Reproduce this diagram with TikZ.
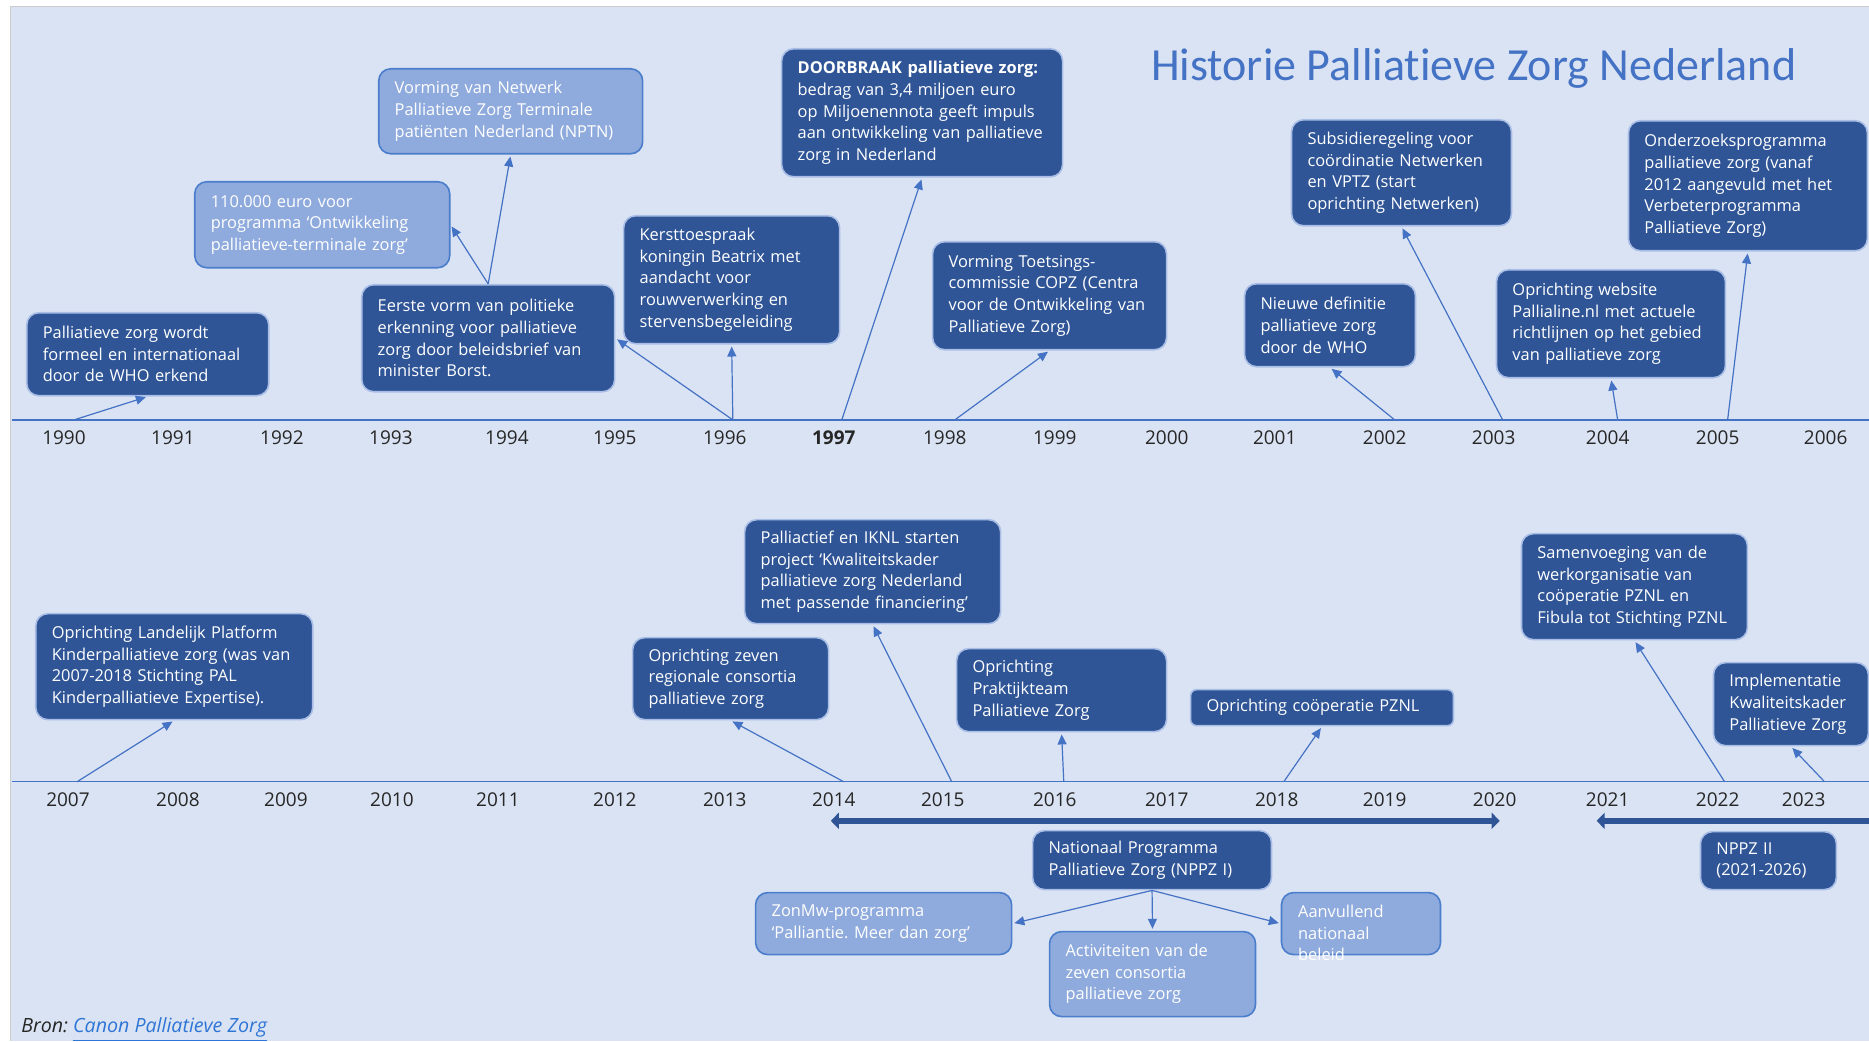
\documentclass[tikz,border=0pt]{standalone}
\usepackage{fontspec}
\setmainfont{Open Sans}
\newfontfamily\titlefont{Carlito}[Ligatures=NoCommon]
\usetikzlibrary{arrows.meta}
\frenchspacing

\definecolor{bgblue}{HTML}{DAE3F3}
\definecolor{darkbox}{HTML}{2F5597}
\definecolor{glow}{HTML}{A9BEE6}
\definecolor{palebox}{HTML}{8FAADC}
\definecolor{paleedge}{HTML}{4A7DCB}
\definecolor{linkblue}{HTML}{4472C4}
\definecolor{yeargray}{HTML}{262626}
\definecolor{urlblue}{HTML}{2E75D6}

\tikzset{
  evt/.style={draw=glow, line width=0.8pt, fill=darkbox, text=white, rounded corners=6pt,
    anchor=north west, align=left, inner xsep=8pt, inner ysep=4pt,
    font=\fontsize{8.2}{10.8}\selectfont},
  pale/.style={evt, fill=palebox, draw=paleedge},
  yr/.style={text=yeargray, font=\fontsize{9.5}{11}\selectfont},
  lnk/.style={draw=linkblue, line width=0.6pt, -{Triangle[length=5pt,width=4.5pt]}, shorten >=1pt},
  bar/.style={draw=darkbox, line width=3pt},
  bartip/.tip={Triangle[length=4pt,width=8pt]},
}

\begin{document}
\begin{tikzpicture}[x=0.5pt, y=-0.5pt]
  % background
  \fill[white] (0,0) rectangle (1869,1041);
  \fill[bgblue] (10,6) rectangle (1869,1041);
  \draw[gray!40] (10,1041) -- (10,6) -- (1869,6);
  \useasboundingbox (0,0) rectangle (1869,1041);

  \node[anchor=base, text=linkblue, font=\titlefont\fontsize{23}{26}\selectfont] (title) at (1474,81) {Historie Palliatieve Zorg Nederland};

  % time axes
  \draw[linkblue, line width=0.6pt] (12,420) -- (1869,420);
  \draw[linkblue, line width=0.6pt] (12,782) -- (1869,782);
  \foreach \yr/\xx in {1990/64, 1991/173, 1992/282, 1993/391, 1994/507, 1995/615, 1996/725,
      1998/945, 1999/1055, 2000/1167, 2001/1275, 2002/1385, 2003/1494, 2004/1608, 2005/1718, 2006/1826}
    \node[yr] (y\yr) at (\xx,438) {\yr};
  \node[yr, font=\bfseries\fontsize{9.5}{11}\selectfont] (y1997) at (834,438) {1997};
  \foreach \yr/\xx in {2007/68, 2008/178, 2009/286, 2010/392, 2011/498, 2012/615, 2013/725, 2014/834,
      2015/943, 2016/1055, 2017/1167, 2018/1277, 2019/1385, 2020/1495, 2021/1608, 2022/1718, 2023/1804}
    \node[yr] (y\yr) at (\xx,800) {\yr};

  % 1990-2006
  \node[evt, text width=105pt, minimum height=41.5pt] (who) at (26,312) {Palliatieve zorg wordt\\formeel en internationaal\\door de WHO erkend};
  \node[pale, text width=111.5pt, minimum height=43pt] (euro) at (194,181) {110.000 euro voor\\programma ‘Ontwikkeling\\palliatieve-terminale zorg’};
  \node[pale, text width=116pt, minimum height=42.5pt] (nptn) at (378,68) {Vorming van Netwerk\\Palliatieve Zorg Terminale\\patiënten Nederland (NPTN)};
  \node[evt, text width=110.5pt, minimum height=53.5pt] (borst) at (361,284) {Eerste vorm van politieke\\erkenning voor palliatieve\\zorg door beleidsbrief van\\minister Borst.};
  \node[evt, text width=92pt, minimum height=64pt] (kerst) at (623,215) {Kersttoespraak\\koningin Beatrix met\\aandacht voor\\rouwverwerking en\\stervensbegeleiding};
  \node[evt, text width=124.5pt, minimum height=64pt] (doorbraak) at (781,48) {\textbf{DOORBRAAK palliatieve zorg:}\\bedrag van 3,4 miljoen euro\\op Miljoenennota geeft impuls\\aan ontwikkeling van palliatieve\\zorg in Nederland};
  \node[evt, text width=101pt, minimum height=54pt] (copz) at (932,241) {Vorming Toetsings-\\commissie COPZ (Centra\\voor de Ontwikkeling van\\Palliatieve Zorg)};
  \node[evt, text width=69.5pt, minimum height=41.5pt] (who2) at (1244,283) {Nieuwe definitie\\palliatieve zorg\\door de WHO};
  \node[evt, text width=94pt, minimum height=53pt] (subsidie) at (1291,119) {Subsidieregeling voor\\coördinatie Netwerken\\en VPTZ (start\\oprichting Netwerken)};
  \node[evt, text width=98.5pt, minimum height=54pt] (pallialine) at (1496,269) {Oprichting website\\Pallialine.nl met actuele\\richtlijnen op het gebied\\van palliatieve zorg};
  \node[evt, text width=103.5pt, minimum height=65pt] (onderzoek) at (1628,120) {Onderzoeksprogramma\\palliatieve zorg (vanaf\\2012 aangevuld met het\\Verbeterprogramma\\Palliatieve Zorg)};

  \coordinate (t1990) at (74,420);
  \coordinate (t1996) at (733,420);
  \coordinate (t1997) at (842,420);
  \coordinate (t1998) at (955,420);
  \coordinate (t2002) at (1395,420);
  \coordinate (t2003) at (1503,420);
  \coordinate (t2004) at (1618,420);
  \coordinate (t2005) at (1728,420);

  \draw[lnk] (t1990) -- (who.south);
  \draw[lnk] (borst.north) -- (euro.east);
  \draw[lnk] (borst.north) -- (nptn.south);
  \draw[lnk] (t1996) -- (borst.east);
  \draw[lnk] (t1996) -- (kerst.south);
  \draw[lnk] (t1997) -- (doorbraak.south);
  \draw[lnk] (t1998) -- (copz.south);
  \draw[lnk] (t2002) -- (who2.south);
  \draw[lnk] (t2003) -- (subsidie.south);
  \draw[lnk] (t2004) -- (pallialine.south);
  \draw[lnk] (t2005) -- (onderzoek.south);

  % 2007-2023
  \node[evt, text width=122.5pt, minimum height=53pt] (kinder) at (35,613) {Oprichting Landelijk Platform\\Kinderpalliatieve zorg (was van\\2007-2018 Stichting PAL\\Kinderpalliatieve Expertise).};
  \node[evt, text width=82pt, minimum height=41pt] (consortia) at (632,637) {Oprichting zeven\\regionale consortia\\palliatieve zorg};
  \node[evt, text width=112pt, minimum height=52pt] (kader) at (744,519) {Palliactief en IKNL starten\\project ‘Kwaliteitskader\\palliatieve zorg Nederland\\met passende financiering’};
  \node[evt, text width=89pt, minimum height=41.5pt] (praktijk) at (956,648) {Oprichting\\Praktijkteam\\Palliatieve Zorg};
  \node[evt, text width=115.5pt, minimum height=18pt, rounded corners=3pt] (pznl) at (1190,689) {Oprichting coöperatie PZNL};
  \node[evt, text width=97pt, minimum height=53pt] (samen) at (1521,533) {Samenvoeging van de\\werkorganisatie van\\coöperatie PZNL en\\Fibula tot Stichting PZNL};
  \node[evt, text width=61.5pt, minimum height=41.5pt] (implement) at (1713,662) {Implementatie\\Kwaliteitskader\\Palliatieve Zorg};

  \coordinate (t2007) at (77,782);
  \coordinate (t2014) at (844,782);
  \coordinate (t2015) at (952,782);
  \coordinate (t2016) at (1064,782);
  \coordinate (t2018) at (1284,782);
  \coordinate (t2022) at (1725,782);
  \coordinate (t2023) at (1825,782);

  \draw[lnk] (t2007) -- (kinder.south);
  \draw[lnk] (t2014) -- (consortia.south);
  \draw[lnk] (t2015) -- (kader.south);
  \draw[lnk] (t2016) -- (praktijk.south);
  \draw[lnk] (t2018) -- (pznl.south);
  \draw[lnk] (t2022) -- (samen.south);
  \draw[lnk] (t2023) -- (implement.south);

  % programmes
  \coordinate (p1l) at (831,821);
  \coordinate (p1r) at (1500,821);
  \coordinate (p2l) at (1597,821);
  \coordinate (p2r) at (1869,821);
  \draw[bar, bartip-bartip] (p1l) -- (p1r);
  \draw[bar, bartip-] (p2l) -- (p2r);

  \node[evt, text width=103.5pt, minimum height=29.5pt] (nppz1) at (1032,830) {Nationaal Programma\\Palliatieve Zorg (NPPZ I)};
  \node[evt, text width=52pt, minimum height=29pt] (nppz2) at (1700,831) {NPPZ II\\(2021-2026)};
  \node[pale, text width=112pt, minimum height=31pt] (zonmw) at (755,892) {ZonMw-programma\\‘Palliantie. Meer dan zorg’};
  \node[pale, text width=87pt, minimum height=42.5pt] (activ) at (1049,931) {Activiteiten van de\\zeven consortia\\palliatieve zorg};
  \node[pale, minimum width=79.5pt, minimum height=31pt] (aanv) at (1281,892) {};
  \node[anchor=north west, align=left, text=white, inner sep=0pt, font=\fontsize{8.2}{10.8}\selectfont] (aanvtxt) at (1298,905) {Aanvullend\\nationaal\\beleid};

  \draw[lnk] (nppz1.south) -- (zonmw.east);
  \draw[lnk] (nppz1.south) -- (activ.north);
  \draw[lnk] (nppz1.south) -- (aanv.west);

  \node[anchor=base west, inner sep=0pt, text=yeargray, font=\itshape\fontsize{9.8}{11}\selectfont] (bron) at (21,1033) {Bron: \textcolor{urlblue}{\underline{Canon Palliatieve Zorg}}};
\end{tikzpicture}
\end{document}
